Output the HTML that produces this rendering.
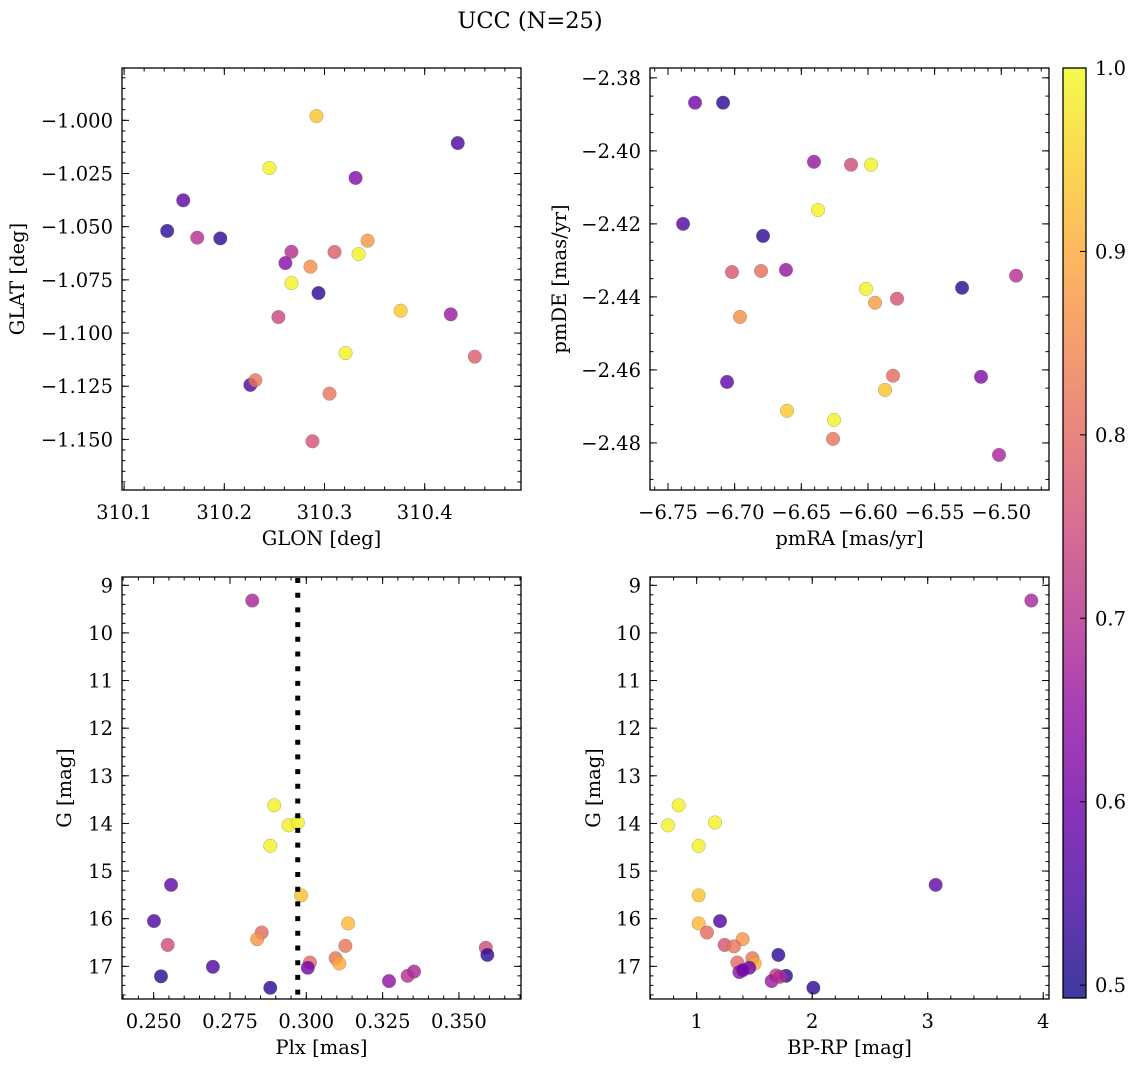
<!DOCTYPE html>
<html><head><meta charset="utf-8">
<style>
html,body{margin:0;padding:0;background:#fff;}
svg{display:block;font-family:"DejaVu Serif","Liberation Serif",serif;}
</style></head>
<body>
<svg id="fig" width="1136" height="1067" viewBox="0 0 1136 1067" xmlns="http://www.w3.org/2000/svg">
<defs>
<linearGradient id="plasma" x1="0" y1="1" x2="0" y2="0">
<stop offset="0" stop-color="#0d0887"/><stop offset="0.1" stop-color="#41049d"/><stop offset="0.2" stop-color="#6a00a8"/><stop offset="0.3" stop-color="#8f0da4"/><stop offset="0.4" stop-color="#b12a90"/><stop offset="0.5" stop-color="#cc4778"/><stop offset="0.6" stop-color="#e16462"/><stop offset="0.7" stop-color="#f2844b"/><stop offset="0.8" stop-color="#fca636"/><stop offset="0.9" stop-color="#fcce25"/><stop offset="1" stop-color="#f0f921"/>
</linearGradient>
</defs>
<text x="530" y="28" font-size="22.5" text-anchor="middle">UCC (N=25)</text>
</svg>
<script>
// ---- data ----
const glon = [310.292,310.433,310.245,310.331,310.159,310.143,310.173,310.196,310.343,310.267,310.310,310.334,310.261,310.286,310.267,310.294,310.376,310.426,310.254,310.321,310.450,310.226,310.231,310.305,310.288];
const glat = [-0.998,-1.0107,-1.0224,-1.0271,-1.0376,-1.0520,-1.0552,-1.0555,-1.0566,-1.0618,-1.0619,-1.0629,-1.0671,-1.0688,-1.0765,-1.0812,-1.0895,-1.0912,-1.0925,-1.1094,-1.1111,-1.1244,-1.1222,-1.1285,-1.1509];
const probA = [0.93,0.55,0.99,0.62,0.58,0.52,0.70,0.52,0.87,0.70,0.78,0.99,0.63,0.86,0.99,0.52,0.94,0.66,0.74,0.99,0.78,0.56,0.82,0.82,0.76];

const pmra = [-6.7297,-6.7087,-6.6405,-6.6127,-6.5977,-6.6375,-6.7387,-6.6787,-6.7020,-6.6802,-6.6615,-6.4889,-6.5294,-6.6015,-6.5947,-6.5782,-6.6960,-6.7057,-6.5812,-6.5152,-6.5872,-6.6607,-6.6255,-6.6262,-6.5017];
const pmde = [-2.3868,-2.3868,-2.4030,-2.4038,-2.4038,-2.4162,-2.4200,-2.4233,-2.4332,-2.4329,-2.4326,-2.4342,-2.4375,-2.4378,-2.4416,-2.4405,-2.4455,-2.4633,-2.4616,-2.4619,-2.4655,-2.4712,-2.4737,-2.4789,-2.4833];
const probB = [0.60,0.52,0.65,0.75,0.99,0.99,0.56,0.52,0.77,0.81,0.65,0.70,0.52,0.99,0.88,0.76,0.86,0.58,0.80,0.62,0.93,0.94,0.99,0.82,0.68];

const plx = [0.2823,0.2895,0.2942,0.2972,0.2882,0.2557,0.2983,0.2501,0.3137,0.2854,0.2839,0.2546,0.3128,0.3588,0.3593,0.3096,0.3012,0.3108,0.3005,0.2694,0.2524,0.3353,0.3332,0.3271,0.2882];
const gmagC = [9.32,13.62,14.04,13.98,14.47,15.29,15.51,16.05,16.10,16.29,16.43,16.55,16.57,16.61,16.76,16.83,16.92,16.94,17.03,17.01,17.21,17.11,17.20,17.31,17.45];
const probC = [0.68,0.99,0.99,0.99,0.99,0.58,0.93,0.56,0.92,0.80,0.87,0.75,0.82,0.75,0.52,0.82,0.80,0.90,0.60,0.56,0.52,0.68,0.70,0.64,0.52];
const plxRef = [0.2972];

const bprp = [3.897,0.844,0.752,1.158,1.017,3.069,1.017,1.202,1.017,1.089,1.398,1.242,1.323,1.707,1.482,1.352,1.502,1.455,1.369,1.687,1.773,1.649,2.010,1.400,1.720];
const gmagD = [9.32,13.62,14.04,13.98,14.47,15.29,15.51,16.05,16.10,16.29,16.43,16.55,16.58,16.76,16.83,16.92,16.94,17.03,17.12,17.19,17.20,17.31,17.45,17.08,17.22];
const probD = [0.68,0.99,0.99,0.99,0.99,0.58,0.93,0.56,0.92,0.80,0.87,0.76,0.82,0.52,0.82,0.80,0.90,0.60,0.64,0.72,0.52,0.66,0.52,0.60,0.70];

const ticksA_x = [310.1,310.2,310.3,310.4];
const ticksA_xl = ["310.1","310.2","310.3","310.4"];
const ticksA_y = [-1.000,-1.025,-1.050,-1.075,-1.100,-1.125,-1.150];
const ticksA_yl = ["\u22121.000","\u22121.025","\u22121.050","\u22121.075","\u22121.100","\u22121.125","\u22121.150"];
const ticksB_x = [-6.75,-6.70,-6.65,-6.60,-6.55,-6.50];
const ticksB_xl = ["\u22126.75","\u22126.70","\u22126.65","\u22126.60","\u22126.55","\u22126.50"];
const ticksB_y = [-2.38,-2.40,-2.42,-2.44,-2.46,-2.48];
const ticksB_yl = ["\u22122.38","\u22122.40","\u22122.42","\u22122.44","\u22122.46","\u22122.48"];
const ticksC_x = [0.250,0.275,0.300,0.325,0.350];
const ticksC_xl = ["0.250","0.275","0.300","0.325","0.350"];
const ticksG = [9,10,11,12,13,14,15,16,17];
const ticksG_l = ["9","10","11","12","13","14","15","16","17"];
const ticksD_x = [1,2,3,4];
const ticksD_xl = ["1","2","3","4"];
const ticksCb = [0.5,0.6,0.7,0.8,0.9,1.0];
const ticksCb_l = ["0.5","0.6","0.7","0.8","0.9","1.0"];

// ---- rendering ----
const NS = "http://www.w3.org/2000/svg";
const svg = document.getElementById('fig');
const FS = 19.5;
const VMIN = 0.493, VMAX = 1.0;
const stops = [[13,8,135],[65,4,157],[106,0,168],[143,13,164],[177,42,144],[204,71,120],[225,100,98],[242,132,75],[252,166,54],[252,206,37],[240,249,33]];
function cmap(v){
  let t = Math.max(0,Math.min(1,(v-VMIN)/(VMAX-VMIN)))*10;
  let i = Math.min(9,Math.floor(t)), f = t-i;
  const a=stops[i], b=stops[i+1];
  return 'rgb('+a.map((c,k)=>Math.round(c+(b[k]-c)*f)).join(',')+')';
}
function mk(tag, attrs, parent){
  const e = document.createElementNS(NS, tag);
  for (const k in attrs) e.setAttribute(k, attrs[k]);
  (parent||svg).appendChild(e);
  return e;
}
function linScale(d0,d1,r0,r1){ return v => r0 + (v-d0)/(d1-d0)*(r1-r0); }

function panel(name, box, xdom, ydom, xt, xtl, xminor, yt, ytl, yminor, xlabel, ylabel, xs, ys, ps, ylabX){
  const g = mk('g', {});
  
  
  const sx = linScale(xdom[0], xdom[1], box.x0, box.x1);
  const sy = linScale(ydom[0], ydom[1], box.y0, box.y1);
  const pg = mk('g', {}, g);
  
  
  for (let i=0;i<xs.length;i++){
    const c = mk('circle', {cx:sx(xs[i]), cy:sy(ys[i]), r:6.8, fill:cmap(ps[i]), 'fill-opacity':0.8, stroke:'rgba(110,110,90,0.55)', 'stroke-width':0.5}, pg);
    
    
  }
  const tg = mk('g', {stroke:'#000', 'stroke-width':1}, g);
  
  
  function xtick(v, len){ const x=sx(v); if (x<box.x0-0.5||x>box.x1+0.5) return;
    mk('line',{x1:x,x2:x,y1:box.y1,y2:box.y1-len},tg); mk('line',{x1:x,x2:x,y1:box.y0,y2:box.y0+len},tg); }
  function ytick(v, len){ const y=sy(v); if (y<Math.min(box.y0,box.y1)-0.5||y>Math.max(box.y0,box.y1)+0.5) return;
    mk('line',{x1:box.x0,x2:box.x0+len,y1:y,y2:y},tg); mk('line',{x1:box.x1,x2:box.x1-len,y1:y,y2:y},tg); }
  const xmin=Math.min(xdom[0],xdom[1]), xmax=Math.max(xdom[0],xdom[1]);
  for (let v=Math.ceil(xmin/xminor)*xminor; v<=xmax; v+=xminor) xtick(v,3.5);
  const ymin=Math.min(ydom[0],ydom[1]), ymax=Math.max(ydom[0],ydom[1]);
  for (let v=Math.ceil(ymin/yminor)*yminor; v<=ymax; v+=yminor) ytick(v,3.5);
  xt.forEach(v=>xtick(v,7)); yt.forEach(v=>ytick(v,7));
  const fr = mk('rect',{x:box.x0,y:Math.min(box.y0,box.y1),width:box.x1-box.x0,height:Math.abs(box.y1-box.y0),fill:'none',stroke:'#000','stroke-width':1.3},g);
  
  
  const bottom = Math.max(box.y0,box.y1);
  xt.forEach((v,i)=>{ const t=mk('text',{x:sx(v),y:bottom+29,'font-size':FS,'text-anchor':'middle'},g); t.textContent=xtl[i];
      });
  yt.forEach((v,i)=>{ const t=mk('text',{x:box.x0-9,y:sy(v)+7,'font-size':FS,'text-anchor':'end'},g); t.textContent=ytl[i];
      });
  const xl = mk('text',{x:(box.x0+box.x1)/2,y:bottom+55,'font-size':FS,'text-anchor':'middle'},g); xl.textContent=xlabel;
   
  const cy=(box.y0+box.y1)/2;
  const yl = mk('text',{x:ylabX,y:cy,'font-size':FS,'text-anchor':'middle',transform:'rotate(-90 '+ylabX+' '+cy+')'},g); yl.textContent=ylabel;
   
  return {sx, sy, g};
}

panel('panel-glon-glat', {x0:122,x1:521,y0:68,y1:490}, [310.0979,310.4961], [-0.9754,-1.1738],
  ticksA_x, ticksA_xl, 0.02, ticksA_y, ticksA_yl, 0.005, 'GLON [deg]', 'GLAT [deg]', glon, glat, probA, 24);
panel('panel-pm', {x0:650,x1:1049,y0:68,y1:490}, [-6.7635,-6.4642], [-2.3773,-2.4929],
  ticksB_x, ticksB_xl, 0.01, ticksB_y, ticksB_yl, 0.005, 'pmRA [mas/yr]', 'pmDE [mas/yr]', pmra, pmde, probB, 566);
const p3 = panel('panel-plx-g', {x0:122,x1:521,y0:577,y1:999}, [0.23963,0.37033], [8.826,17.686],
  ticksC_x, ticksC_xl, 0.005, ticksG, ticksG_l, 0.2, 'Plx [mas]', 'G [mag]', plx, gmagC, probC, 71);
panel('panel-cmd', {x0:650,x1:1049,y0:577,y1:999}, [0.5957,4.050], [8.826,17.686],
  ticksD_x, ticksD_xl, 0.2, ticksG, ticksG_l, 0.2, 'BP-RP [mag]', 'G [mag]', bprp, gmagD, probD, 600);

plxRef.forEach(v=>{
  const l = mk('line',{x1:p3.sx(v),x2:p3.sx(v),y1:578,y2:998,stroke:'#000','stroke-width':5,'stroke-dasharray':'5 9.7'},p3.g);
  
  
});

const cb = mk('g',{});


const cbY0=68, cbY1=998, cbX0=1063, cbX1=1086;
mk('rect',{x:cbX0,y:cbY0,width:cbX1-cbX0,height:cbY1-cbY0,fill:'url(#plasma)','fill-opacity':0.8},cb);
const cbs = linScale(VMIN,VMAX,cbY1,cbY0);
ticksCb.forEach((v,i)=>{
  const y=cbs(v);
  mk('line',{x1:cbX1,x2:cbX1-6,y1:y,y2:y,stroke:'#000','stroke-width':1},cb);
  const t=mk('text',{x:cbX1+9,y:y+7,'font-size':FS},cb); t.textContent=ticksCb_l[i];
  
  
});
mk('rect',{x:cbX0,y:cbY0,width:cbX1-cbX0,height:cbY1-cbY0,fill:'none',stroke:'#000','stroke-width':1.3},cb);
</script>
</body></html>
